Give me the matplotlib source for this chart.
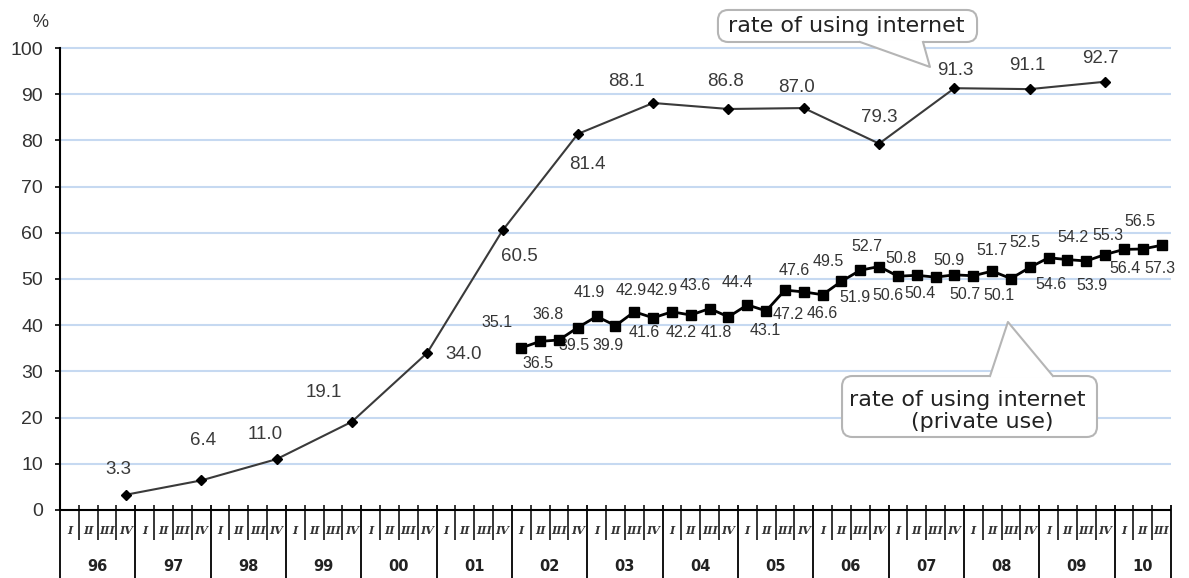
import numpy as np
import matplotlib
matplotlib.use("Agg")
import matplotlib.pyplot as plt
from matplotlib.patches import FancyBboxPatch, Polygon

# quarter axis: 96 I .. 10 III
years = ['96', '97', '98', '99', '00', '01', '02', '03', '04', '05', '06', '07', '08', '09', '10']
quarters = ['I', 'II', 'III', 'IV']
n_quarters = 4 * 14 + 3

# rate of using internet (year end survey, plotted at quarter IV)
internet = [3.3, 6.4, 11.0, 19.1, 34.0, 60.5, 81.4, 88.1, 86.8, 87.0, 79.3, 91.3, 91.1, 92.7]

# rate of using internet, private use (quarterly from 02 I)
private = [35.1, 36.5, 36.8, 39.5,
           41.9, 39.9, 42.9, 41.6,
           42.9, 42.2, 43.6, 41.8,
           44.4, 43.1, 47.6, 47.2,
           46.6, 49.5, 51.9, 52.7,
           50.6, 50.8, 50.4, 50.9,
           50.7, 51.7, 50.1, 52.5,
           54.6, 54.2, 53.9, 55.3,
           56.4, 56.5, 57.3]
private_start = 24  # index of 02 I

# label offsets in pixels (dx, dy)
internet_off = [(-8, 25), (2, 40), (-11, 25), (-28, 29), (36, -2), (17, -26), (10, -31),
                (-27, 21), (-3, 27), (-7, 21), (0, 26), (1, 18), (-2, 24), (-5, 23)]
private_off = [(-24, 25), (-2, -22), (-11, 25), (-4, -18),
               (-7, 24), (-7, -20), (-3, 21), (-9, -15),
               (-10, 21), (-10, -17), (-14, 23), (-12, -16),
               (-10, 22), (-1, -20), (9, 20), (-16, -23),
               (0, -19), (-13, 20), (-5, -27), (-12, 20),
               (-10, -19), (-16, 17), (-16, -16), (-6, 14),
               (-8, -19), (0, 21), (-12, -17), (-5, 25),
               (2, -27), (6, 22), (6, -25), (3, 19),
               (1, -19), (-3, 27), (-2, -23)]

fig = plt.figure(figsize=(11.89, 5.78), dpi=100)
ax = fig.add_axes([0, 0, 1, 1])
ax.set_xlim(-3.186, 59.956)
ax.set_ylim(-14.72, 110.39)

for s in ['top', 'right', 'bottom']:
    ax.spines[s].set_visible(False)
ax.spines['left'].set_position(('data', 0))
ax.spines['left'].set_bounds(0, 100)
ax.spines['left'].set_linewidth(1.5)
ax.set_xticks([])
ax.set_yticks(range(0, 101, 10))
ax.tick_params(axis='y', length=3.6, width=1.2, pad=8.5, labelsize=14, labelcolor='#333333')
for lab in ax.get_yticklabels():
    lab.set_family('Liberation Sans')
ax.text(-1.06, 105.6, '%', ha='center', va='center', fontsize=13, color='#333333',
        family='Liberation Sans')

# horizontal grid
ax.hlines(np.arange(10, 101, 10), 0, n_quarters, color='#c6d9f1', lw=1.5, zorder=1)

# quarter / year table under the axis
ax.hlines(0, 0, n_quarters, color='black', lw=1.5, zorder=3)
year_edges = list(range(0, 57, 4)) + [n_quarters]
for i in range(1, n_quarters):
    if i not in year_edges:
        ax.vlines(i, -6.5, 1.0, color='black', lw=1.1)
ax.vlines(year_edges, -14.72, 1.0, color='black', lw=1.3)
for i in range(n_quarters):
    ax.text(i + 0.5, -4.4, quarters[i % 4], ha='center', va='center', fontsize=8,
            family='DejaVu Serif', weight='bold', style='italic', color='#333333')
for k, yr in enumerate(years):
    width = 4 if k < 14 else 3
    ax.text(4 * k + width / 2, -12.3, yr, ha='center', va='center', fontsize=10.5,
            weight='bold', color='#222222')

# series
x_int = [4 * k + 3.5 for k in range(len(internet))]
ax.plot(x_int, internet, color='#3a3a3a', lw=1.5, marker='D', ms=5.5,
        mfc='black', mec='black', zorder=4)
x_priv = [private_start + i + 0.5 for i in range(len(private))]
ax.plot(x_priv, private, color='black', lw=2, marker='s', ms=6.5,
        mfc='black', mec='black', zorder=4)

for x, v, (dx, dy) in zip(x_int, internet, internet_off):
    ax.annotate(f'{v:.1f}', (x, v), xytext=(dx, dy), textcoords='offset pixels',
                ha='center', va='center', fontsize=13.5, color='#3a3a3a',
                family='Liberation Sans')
for x, v, (dx, dy) in zip(x_priv, private, private_off):
    ax.annotate(f'{v:.1f}', (x, v), xytext=(dx, dy), textcoords='offset pixels',
                ha='center', va='center', fontsize=11.5, color='#333333',
                family='Liberation Sans')


def callout(x0, y0, x1, y1, base, tip, top_side):
    box = FancyBboxPatch((x0, y0), x1 - x0, y1 - y0,
                         boxstyle='round,pad=0,rounding_size=0.55',
                         mutation_aspect=4.08, fc='white', ec='#b5b5b5', lw=1.5,
                         zorder=6, clip_on=False)
    ax.add_patch(box)
    yb = y1 if top_side else y0
    inset = -0.4 if top_side else 0.4
    tri = Polygon([(base[0], yb + inset), (base[0], yb), tip, (base[1], yb), (base[1], yb + inset)],
                  closed=True, fc='white', ec='none', zorder=7, clip_on=False)
    ax.add_patch(tri)
    ax.plot([base[0], tip[0], base[1]], [yb, tip[1], yb], color='#b5b5b5', lw=1.5,
            zorder=7, clip_on=False)


callout(34.94, 101.3, 48.70, 108.23, (42.49, 45.83), (46.2, 95.9), False)
ax.text(41.74, 104.8, 'rate of using internet', ha='center', va='center',
        fontsize=16, color='#222222', zorder=8)

callout(41.53, 15.8, 55.07, 29.0, (49.39, 52.73), (50.34, 40.7), True)
ax.text(48.2, 23.8, 'rate of using internet', ha='center', va='center',
        fontsize=16, color='#222222', zorder=8)
ax.text(49.0, 19.0, '(private use)', ha='center', va='center',
        fontsize=16, color='#222222', zorder=8)

fig.savefig('out.png', dpi=100)
